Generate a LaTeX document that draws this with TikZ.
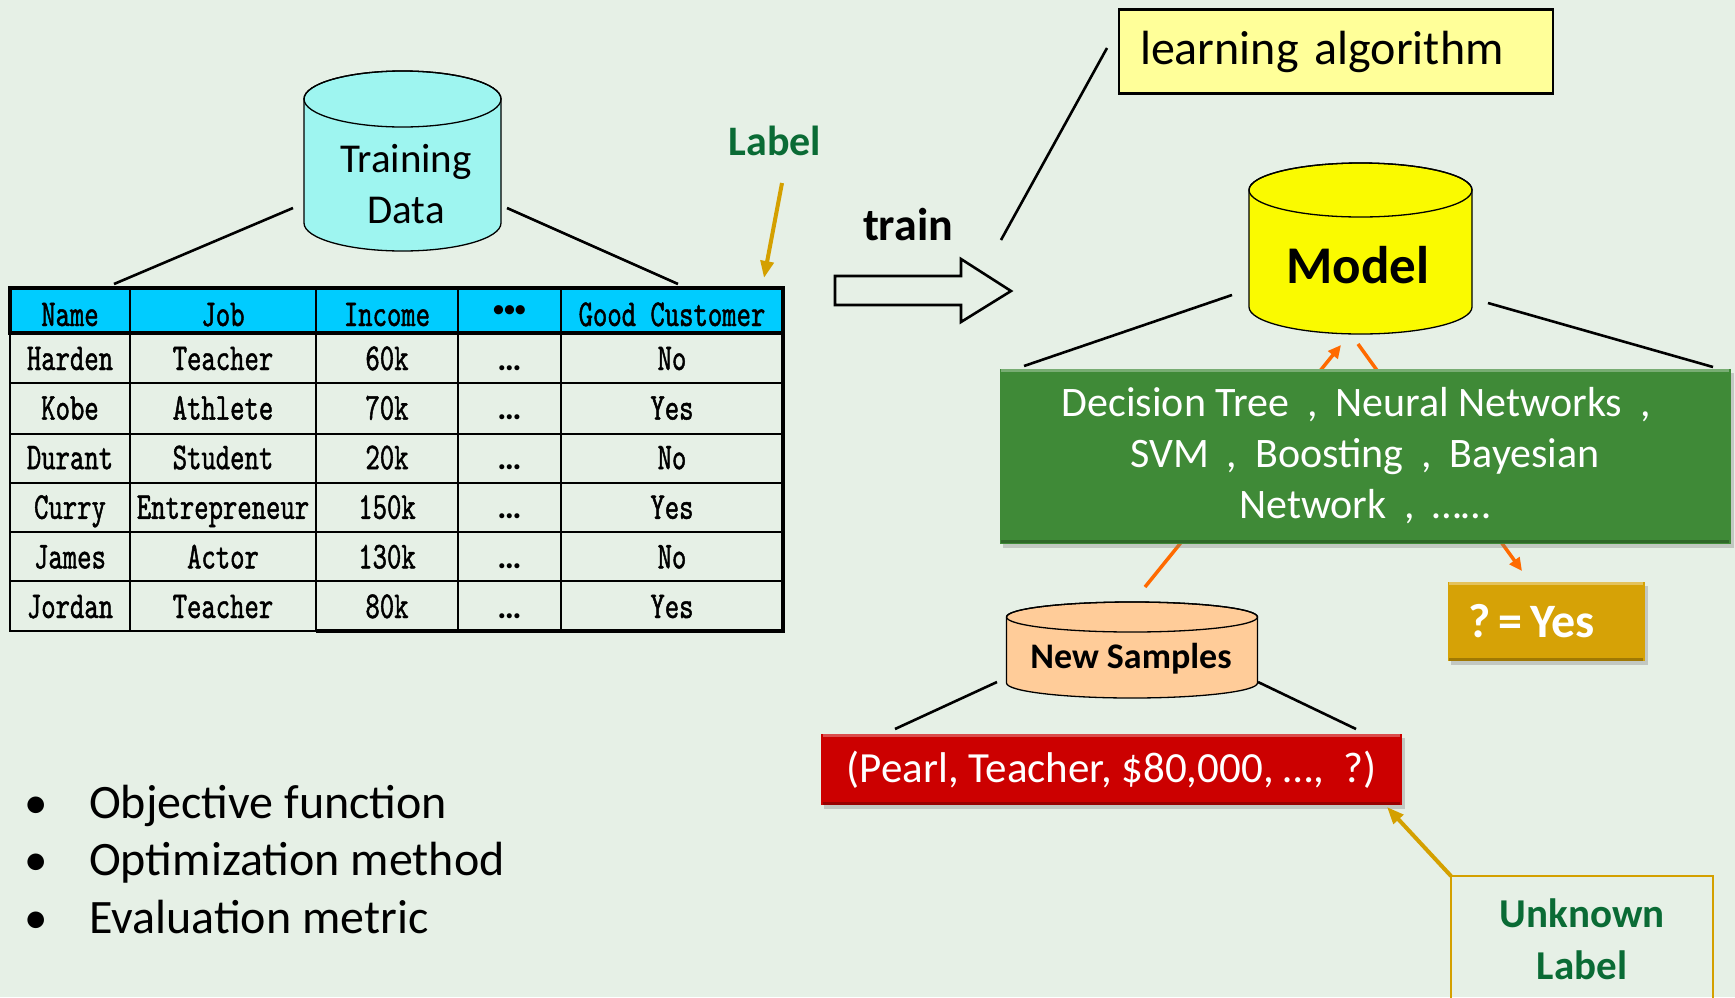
\documentclass[tikz,border=0pt]{standalone}
\usepackage{fontspec}
\setmainfont{Carlito}
\newfontfamily\tabfont{lmmono10-regular.otf}[FakeStretch=0.72,FakeBold=1.2]
\usetikzlibrary{arrows.meta,shadows,calc}
\definecolor{bg}{HTML}{E6F0E6}
\definecolor{tdcyan}{HTML}{9EF5F0}
\definecolor{hdcyan}{HTML}{00CCFF}
\definecolor{lblgreen}{HTML}{0A6B35}
\definecolor{goldarr}{HTML}{D4A000}
\definecolor{algoyellow}{HTML}{FFFF99}
\definecolor{modelyellow}{HTML}{FAFA00}
\definecolor{boxgreen}{HTML}{3F8A37}
\definecolor{orangearr}{HTML}{FF6A00}
\definecolor{yesgold}{HTML}{D6A206}
\definecolor{peach}{HTML}{FFCC99}
\definecolor{boxred}{HTML}{CC0000}
\newcommand{\fwc}{\makebox[1.1em]{,}}
\newcommand{\cylshape}[6]{%
  \filldraw[fill=#6, draw=black, line width=1.3pt]
    ({#1-#4},{#2+#5}) -- ({#1-#4},{#3-#5})
    arc[start angle=180, end angle=360, x radius=#4pt, y radius=#5pt]
    -- ({#1+#4},{#2+#5})
    arc[start angle=0, end angle=180, x radius=#4pt, y radius=#5pt] -- cycle;
  \draw[line width=1.3pt] (#1,{#2+#5}) ellipse[x radius=#4pt, y radius=#5pt];
}
\begin{document}
\begin{tikzpicture}[x=1pt,y=-1pt,
  conn/.style={line width=2.6pt, black},
  orangearrow/.style={line width=3.5pt, orangearr, -{Triangle[length=13pt,width=12pt]}},
  goldarrow/.style={line width=4pt, goldarr, -{Triangle[length=17pt,width=13pt]}},
  cell/.style={inner sep=0pt, text height=24pt, text depth=0pt, font=\tabfont\fontsize{38}{38}\selectfont},
  dotcell/.style={inner sep=0pt, text height=24pt, text depth=0pt, font=\bfseries\fontsize{34}{34}\selectfont},
  bevelbox/.style={inner sep=0pt, drop shadow={opacity=0.35, shadow xshift=3pt, shadow yshift=-4pt}},
]
\fill[bg] (0,0) rectangle (1735,997);
\useasboundingbox (0,0) rectangle (1735,997);

% ---------- Training data cylinder ----------
\cylshape{402.5}{71}{251}{98.5}{28}{tdcyan}
\node[align=center, font=\fontsize{41}{51}\selectfont] (td) at (406,184) {Training\\Data};

% ---------- table ----------
\fill[hdcyan] (10,288) rectangle (783,333);
\foreach \yy in {383,434,483,532,581} \draw[line width=2.2pt] (10,\yy) -- (783,\yy);
\foreach \xx in {130,316,458,561} \draw[line width=2.2pt] (\xx,288) -- (\xx,631);
\draw[line width=3.5pt] (10,288) rectangle (783,333);
\draw[line width=2.6pt] (10,288) rectangle (783,631);
\draw[line width=3.5pt] (783,288) -- (783,631) -- (316,631);

\node[cell] (hname) at (70,314) {Name};
\node[cell] (hjob) at (223,314) {Job};
\node[cell] (hinc) at (387,314) {Income};
\node[inner sep=0pt, font=\fontsize{26}{26}\selectfont] (hdots) at (509.5,312) {•\hspace{-2pt}•\hspace{-2pt}•};
\node[cell] (hgood) at (672,314) {Good Customer};

\foreach \n/\j/\i/\g [count=\r] in {Harden/Teacher/60k/No, Kobe/Athlete/70k/Yes, Durant/Student/20k/No, Curry/Entrepreneur/150k/Yes, James/Actor/130k/No, Jordan/Teacher/80k/Yes}{
  \pgfmathsetmacro\yy{358+49.6*(\r-1)}
  \node[cell] (n\r) at (70,\yy) {\n};
  \node[cell] (j\r) at (223,\yy) {\j};
  \node[cell] (i\r) at (387,\yy) {\i};
  \node[dotcell] (d\r) at (509.5,\yy) {…};
  \node[cell] (g\r) at (672,\yy) {\g};
}

\coordinate (tdL) at (293,208);
\coordinate (tdR) at (507,208);
\coordinate (tabL) at (114,284);
\coordinate (tabR) at (678,284);
\draw[conn] (tdL) -- (tabL);
\draw[conn] (tdR) -- (tabR);

% ---------- Label ----------
\node[font=\bfseries\fontsize{42}{42}\selectfont, text=lblgreen, anchor=base] (lbl) at (775,155) {Label};
\coordinate (lblS) at (782,183);
\coordinate (lblT) at (764,278);
\draw[goldarrow] (lblS) -- (lblT);

% ---------- train arrow ----------
\node[font=\bfseries\fontsize{46}{46}\selectfont, anchor=base] (train) at (908,240) {train};
\draw[line width=2.6pt, line join=miter] (835,276) -- (961,276) -- (961,259) -- (1011,291) -- (961,322) -- (961,305) -- (835,305) -- cycle;

% ---------- learning algorithm ----------
\node[draw=black, line width=2.6pt, fill=algoyellow, minimum width=434pt, minimum height=84pt,
      text width=392pt, inner xsep=21pt, align=left, font=\fontsize{48}{48}\selectfont] (algo) at (1336,51.5) {learning algorithm};
\coordinate (laS) at (1001,240);
\coordinate (laT) at (1107,48);
\draw[conn] (laS) -- (laT);

% ---------- orange arrows (behind the green box) ----------
\coordinate (ns1) at (1145,587);
\coordinate (md1) at (1341,345);
\coordinate (md2) at (1358,344);
\coordinate (yes1) at (1522,571);
\draw[orangearrow] (ns1) -- (md1);
\draw[orangearrow] (md2) -- (yes1);

% ---------- Model cylinder ----------
\cylshape{1360.5}{163}{334}{111.5}{27}{modelyellow}
\node[font=\bfseries\fontsize{53}{53}\selectfont, anchor=base] (model) at (1358,283) {Model};
\coordinate (mdL) at (1232,295);
\coordinate (mdR) at (1488,303);
\coordinate (gbL) at (1024,366);
\coordinate (gbR) at (1713,367);
\draw[conn] (mdL) -- (gbL);
\draw[conn] (mdR) -- (gbR);

% ---------- green box ----------
\node[bevelbox, fill=boxgreen, minimum width=731pt, minimum height=175pt, align=center,
      text=white, font=\fontsize{42}{51}\selectfont] (algos) at (1365,456)
  {Decision Tree\fwc Neural Networks\fwc\\SVM\fwc Boosting\fwc Bayesian\\Network\fwc ……};
\draw[white, opacity=0.3, line width=3pt] ($(algos.north west)+(2,2)$) -- ($(algos.north east)+(-2,2)$);
\draw[black, opacity=0.25, line width=3pt] ($(algos.south west)+(2,-2)$) -- ($(algos.south east)+(-2,-2)$);

% ---------- ? = Yes ----------
\node[bevelbox, fill=yesgold, minimum width=197pt, minimum height=79pt, text width=155pt, inner xsep=21pt,
      align=left, text=white, font=\bfseries\fontsize{48}{48}\selectfont] (yes) at (1546,621.5) {?\,=\,Yes};
\draw[white, opacity=0.35, line width=3pt] ($(yes.north west)+(2,2)$) -- ($(yes.north east)+(-2,2)$);
\draw[black, opacity=0.25, line width=3pt] ($(yes.south west)+(2,-2)$) -- ($(yes.south east)+(-2,-2)$);

% ---------- New Samples ----------
\cylshape{1132}{602}{698}{125.5}{15}{peach}
\node[font=\bfseries\fontsize{36}{36}\selectfont, anchor=base] (news) at (1131,668) {New Samples};
\coordinate (nsL) at (997,682);
\coordinate (nsR) at (1258,682);
\coordinate (rbL) at (895,729);
\coordinate (rbR) at (1356,729);
\draw[conn] (nsL) -- (rbL);
\draw[conn] (nsR) -- (rbR);

% ---------- red box ----------
\node[bevelbox, fill=boxred, minimum width=581pt, minimum height=71pt, text=white,
      font=\fontsize{43}{43}\selectfont] (pearl) at (1111.5,769.5) {(Pearl, Teacher, \$80,000, …,~~?)};
\draw[white, opacity=0.3, line width=3pt] ($(pearl.north west)+(2,2)$) -- ($(pearl.north east)+(-2,2)$);
\draw[black, opacity=0.25, line width=3pt] ($(pearl.south west)+(2,-2)$) -- ($(pearl.south east)+(-2,-2)$);

% ---------- Unknown Label ----------
\node[draw=goldarr, line width=2.5pt, minimum width=262pt, minimum height=126pt, align=center,
      text=lblgreen, font=\bfseries\fontsize{41}{52}\selectfont] (unk) at (1582,939) {Unknown\\Label};
\coordinate (unkS) at (1451,876);
\coordinate (unkT) at (1387,807);
\draw[goldarrow] (unkS) -- (unkT);

% ---------- bullets ----------
\foreach \t/\yy [count=\k] in {Objective function/818, Optimization method/875, Evaluation metric/933}{
  \node[anchor=base, font=\fontsize{47}{47}\selectfont] (b\k) at (36,\yy) {•};
  \node[anchor=base west, inner sep=0pt, font=\fontsize{48}{48}\selectfont] (t\k) at (89,\yy) {\t};
}
\end{tikzpicture}
\end{document}
